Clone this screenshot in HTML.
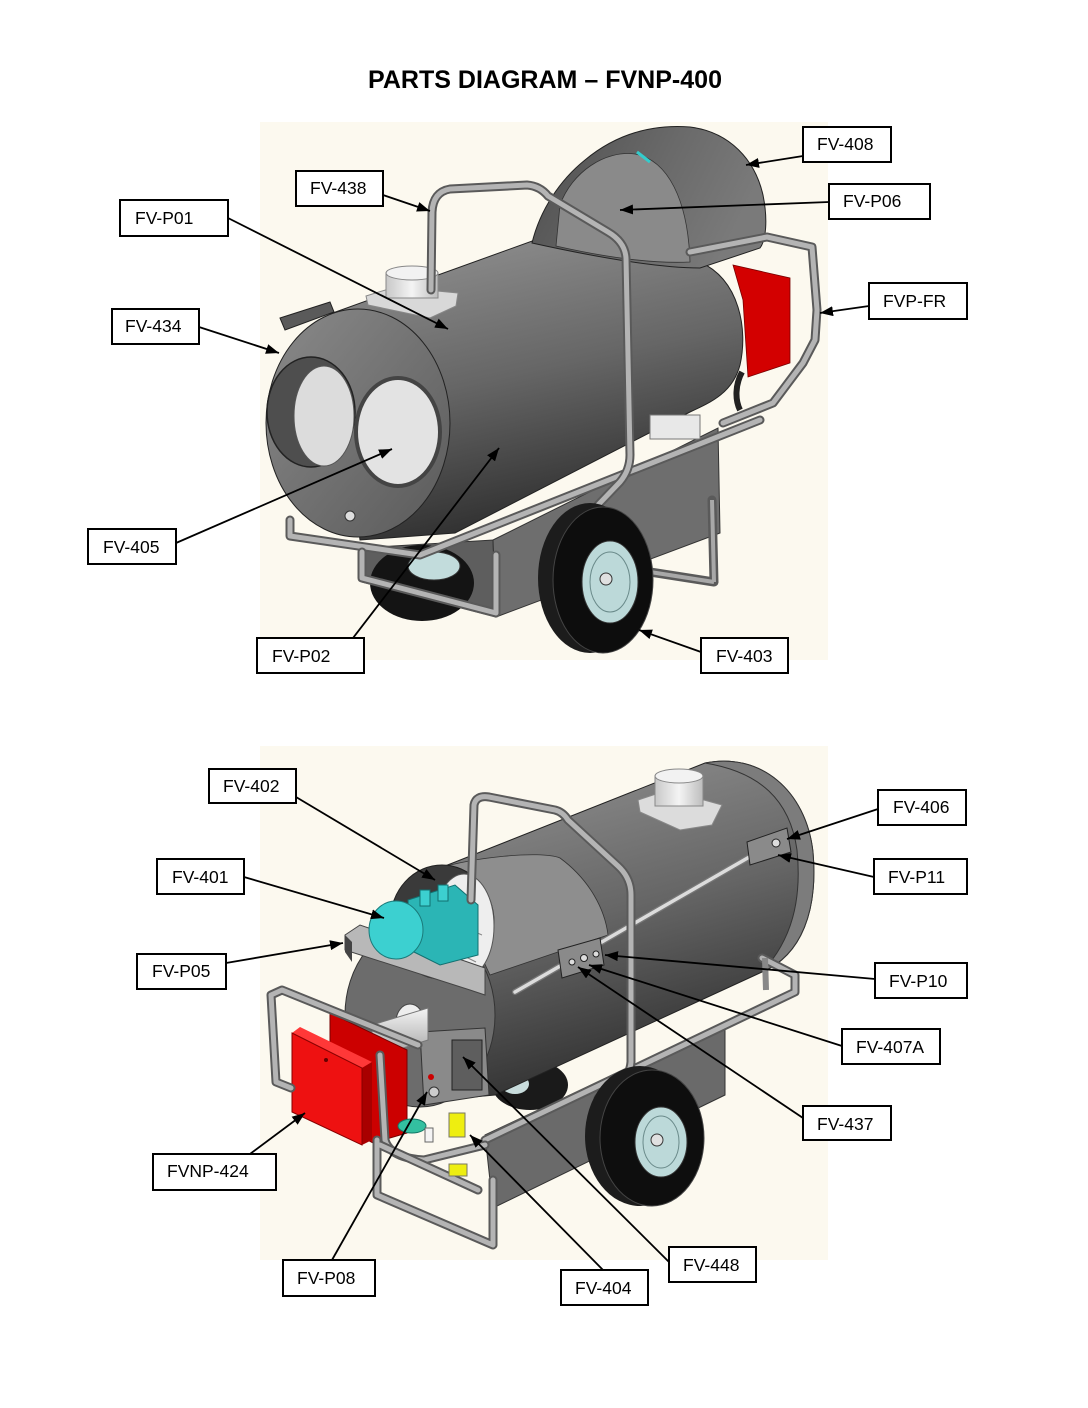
<!DOCTYPE html>
<html><head><meta charset="utf-8"><style>
html,body{margin:0;padding:0;background:#fff;}
svg{display:block;}
.lb{fill:#fff;stroke:#000;stroke-width:2;}
.lt{font-family:"Liberation Sans",Arial,sans-serif;font-size:17.5px;fill:#000;}
.ar{stroke:#000;stroke-width:1.8;fill:none;marker-end:url(#ah);}
.tubeO{fill:none;stroke:#5a5a5a;stroke-width:9;stroke-linejoin:round;stroke-linecap:round;}
.tubeI{fill:none;stroke:#b4b4b4;stroke-width:5;stroke-linejoin:round;stroke-linecap:round;}
</style></head><body>
<svg width="1088" height="1408" viewBox="0 0 1088 1408" xmlns="http://www.w3.org/2000/svg">
<defs>
<marker id="ah" markerUnits="userSpaceOnUse" markerWidth="13" markerHeight="10" refX="13" refY="5" orient="auto">
<path d="M0,0 L13,5 L0,10 z" fill="#000"/>
</marker>
<linearGradient id="bodyG" x1="0.3" y1="0" x2="0.6" y2="1">
<stop offset="0" stop-color="#8c8c8c"/><stop offset="0.45" stop-color="#666"/><stop offset="1" stop-color="#262626"/>
</linearGradient>
<linearGradient id="humpG" x1="0" y1="0" x2="1" y2="0.3">
<stop offset="0" stop-color="#4e4e4e"/><stop offset="0.6" stop-color="#6a6a6a"/><stop offset="1" stop-color="#7a7a7a"/>
</linearGradient>
<linearGradient id="diskG" x1="0" y1="0" x2="1" y2="1">
<stop offset="0" stop-color="#8a8a8a"/><stop offset="1" stop-color="#5a5a5a"/>
</linearGradient>
<linearGradient id="silG" x1="0" y1="0" x2="0" y2="1">
<stop offset="0" stop-color="#f4f4f4"/><stop offset="1" stop-color="#a0a0a0"/>
</linearGradient>
<linearGradient id="colG" x1="0" y1="0" x2="1" y2="0">
<stop offset="0" stop-color="#c8c8c8"/><stop offset="0.5" stop-color="#f4f4f4"/><stop offset="1" stop-color="#bdbdbd"/>
</linearGradient>
</defs>

<rect width="1088" height="1408" fill="#fff"/>
<text x="368" y="88" font-family="Liberation Sans,Arial,sans-serif" font-weight="bold" font-size="25" textLength="354" lengthAdjust="spacingAndGlyphs">PARTS DIAGRAM – FVNP-400</text>

<!-- ================= TOP PANEL ================= -->
<rect x="260" y="122" width="568" height="538" fill="#fcf9ef"/>

<!-- lower tank -->
<polygon points="360,548 493,540 496,617 362,582" fill="#5e5e5e" stroke="#333"/>
<polygon points="493,540 718,428 720,533 496,617" fill="#6e6e6e" stroke="#333"/>
<!-- right frame legs -->
<path d="M712,500 L714,582 M650,572 L714,582" class="tubeO" stroke-width="7"/>
<path d="M712,500 L714,582 M650,572 L714,582" fill="none" stroke="#a8a8a8" stroke-width="4"/>

<!-- rear wheel -->
<ellipse cx="422" cy="583" rx="52" ry="38" fill="#141414"/>
<ellipse cx="434" cy="566" rx="26" ry="14" fill="#c2dcdc" stroke="#333"/>

<!-- body -->
<path d="M330,314 L535,240 L700,262 C740,280 748,330 740,365 C733,392 712,402 690,412 L455,533 L360,540 Z" fill="url(#bodyG)" stroke="#222"/>
<!-- hose/valve stuff behind -->
<rect x="650" y="415" width="50" height="24" fill="#e8e8e8" stroke="#777"/>
<path d="M742,372 C735,385 735,400 740,410" stroke="#222" stroke-width="6" fill="none"/>

<!-- back housing hump -->
<path d="M532,243 C540,210 560,180 585,160 C615,135 650,124 690,127 C730,132 755,160 763,195 C768,220 766,240 760,248 L700,268 C660,268 600,258 532,243 Z" fill="url(#humpG)" stroke="#222"/>
<path d="M560,205 C572,172 605,150 635,154 C668,160 688,200 690,262 C650,264 600,256 556,246 Z" fill="#8a8a8a" stroke="#333" stroke-width="0.8"/>
<path d="M637,152 L650,162" stroke="#3cc" stroke-width="3"/>

<!-- red box -->
<polygon points="733,265 790,278 790,363 748,377 743,300" fill="#d30000" stroke="#700" stroke-width="0.8"/>

<!-- right frame loop -->
<polyline points="690,252 767,237 812,247 817,310 815,340 803,363 773,403 723,423" class="tubeO"/>
<polyline points="690,252 767,237 812,247 817,310 815,340 803,363 773,403 723,423" class="tubeI"/>

<!-- front rail -->
<polyline points="290,520 290,536 420,555 760,420" class="tubeO" stroke-width="11"/>
<polyline points="290,520 290,536 420,555 760,420" class="tubeI" stroke-width="7"/>
<!-- bottom front frame -->
<polyline points="362,552 362,578 496,613 496,555" class="tubeO" stroke-width="9"/>
<polyline points="362,552 362,578 496,613 496,555" class="tubeI" stroke-width="5"/>

<!-- front disk -->
<ellipse cx="358" cy="423" rx="92" ry="114" fill="url(#diskG)" stroke="#222"/>
<polygon points="280,318 330,302 334,312 285,330" fill="#5a5a5a" stroke="#222"/>
<!-- holes -->
<ellipse cx="311" cy="412" rx="44" ry="55" fill="#4e4e4e" stroke="#222" stroke-width="1.5"/>
<ellipse cx="324" cy="416" rx="30" ry="50" fill="#dcdcdc" stroke="#555"/>
<ellipse cx="398" cy="432" rx="42" ry="54" fill="#e3e3e3" stroke="#444" stroke-width="4"/>
<circle cx="350" cy="516" r="5" fill="#ddd" stroke="#333"/>

<!-- exhaust collar -->
<polygon points="366,296 395,287 458,293 456,306 430,318 368,305" fill="#d8d8d8" stroke="#888"/>
<rect x="386" y="273" width="52" height="25" fill="url(#colG)" stroke="#888"/>
<ellipse cx="412" cy="273" rx="26" ry="7" fill="#f2f2f2" stroke="#888"/>

<!-- handle tube -->
<path d="M431,290 L432,212 Q433,192 450,189 L527,185 Q540,186 548,196 L608,232 Q625,242 626,258 L630,455 Q630,470 620,482 L598,505" class="tubeO" stroke-width="8"/>
<path d="M431,290 L432,212 Q433,192 450,189 L527,185 Q540,186 548,196 L608,232 Q625,242 626,258 L630,455 Q630,470 620,482 L598,505" class="tubeI"/>

<!-- front wheel -->
<ellipse cx="590" cy="578" rx="52" ry="75" fill="#1c1c1c"/>
<ellipse cx="603" cy="580" rx="50" ry="73" fill="#0d0d0d" stroke="#444"/>
<ellipse cx="610" cy="582" rx="28" ry="41" fill="#bcd9d9" stroke="#333"/>
<ellipse cx="610" cy="582" rx="20" ry="30" fill="none" stroke="#6a8a8a"/>
<circle cx="606" cy="579" r="6" fill="#e0e0e0" stroke="#333"/>

<!-- ================= BOTTOM PANEL ================= -->
<rect x="260" y="746" width="568" height="514" fill="#fcf9ef"/>

<!-- lower tank -->
<polygon points="485,1135 725,1022 725,1095 493,1208" fill="#6a6a6a" stroke="#333"/>
<!-- rear wheel under body -->
<ellipse cx="530" cy="1085" rx="38" ry="25" fill="#1a1a1a"/>
<ellipse cx="515" cy="1084" rx="14" ry="10" fill="#c8dcdc"/>

<!-- body -->
<path d="M440,868 L705,763 C760,752 806,790 813,852 C818,910 802,955 762,972 L495,1095 L440,1100 Z" fill="url(#bodyG)" stroke="#222"/>
<path d="M705,763 C760,752 806,790 813,852 C818,910 802,955 762,972 C792,940 802,900 797,850 C790,800 760,772 705,763 Z" fill="#7c7c7c" stroke="#333"/>
<path d="M440,868 C470,858 540,850 560,858 C590,880 605,910 608,935 L490,975 Z" fill="#8e8e8e" stroke="#333" stroke-width="0.8"/>

<!-- exhaust collar -->
<polygon points="638,800 668,790 722,805 712,825 680,830 640,812" fill="#dcdcdc" stroke="#888"/>
<rect x="655" y="776" width="48" height="30" fill="url(#colG)" stroke="#888"/>
<ellipse cx="679" cy="776" rx="24" ry="7" fill="#f2f2f2" stroke="#888"/>

<!-- side rod -->
<line x1="515" y1="992" x2="758" y2="852" stroke="#777" stroke-width="6" stroke-linecap="round"/>
<line x1="515" y1="992" x2="758" y2="852" stroke="#dcdcdc" stroke-width="3.5" stroke-linecap="round"/>
<!-- plates -->
<polygon points="558,950 600,938 604,965 562,978" fill="#8a8a8a" stroke="#222"/>
<circle cx="572" cy="962" r="3" fill="#ddd" stroke="#222"/><circle cx="584" cy="958" r="3.5" fill="#ddd" stroke="#222"/><circle cx="596" cy="954" r="3" fill="#ddd" stroke="#222"/>
<polygon points="747,842 787,828 791,852 750,865" fill="#8a8a8a" stroke="#222"/>
<circle cx="776" cy="843" r="4" fill="#ddd" stroke="#222"/>

<!-- right frame -->
<polyline points="762,958 795,975 795,992 485,1140" class="tubeO" stroke-width="8"/>
<polyline points="762,958 795,975 795,992 485,1140" class="tubeI" stroke-width="4.5"/>
<line x1="765" y1="958" x2="766" y2="990" stroke="#888" stroke-width="6"/>

<!-- rear disk -->
<ellipse cx="420" cy="1015" rx="75" ry="92" fill="#6c6c6c" stroke="#333"/>
<!-- fan shroud -->
<ellipse cx="442" cy="922" rx="52" ry="57" fill="#3a3a3a" stroke="#222"/>
<ellipse cx="464" cy="926" rx="30" ry="52" fill="#eeeeee" stroke="#555"/>
<path d="M450,890 L478,905 M448,920 L482,935 M452,950 L476,962" stroke="#888" stroke-width="1"/>
<!-- tray -->
<polygon points="345,935 360,925 485,968 485,995 470,990 345,950" fill="#b8b8b8" stroke="#444"/>
<polygon points="345,935 345,952 352,962 352,942" fill="#444"/>
<!-- motor -->
<polygon points="408,900 455,885 478,905 478,955 440,965 410,950" fill="#2bb5b5" stroke="#127070"/>
<rect x="420" y="890" width="10" height="16" fill="#3cd0d0" stroke="#127070"/>
<rect x="438" y="885" width="10" height="16" fill="#3cd0d0" stroke="#127070"/>
<ellipse cx="396" cy="930" rx="27" ry="29" fill="#3cd0d0" stroke="#1a7a7a"/>
<!-- medallion -->
<ellipse cx="410" cy="1022" rx="14" ry="18" fill="#eee" stroke="#444"/>

<!-- control box -->
<polygon points="420,1032 485,1028 489,1095 424,1105" fill="#8a8a8a" stroke="#333"/>
<rect x="452" y="1040" width="30" height="50" fill="#5e5e5e" stroke="#222"/>
<circle cx="431" cy="1077" r="3" fill="#c00"/>
<circle cx="434" cy="1092" r="5" fill="#ccc" stroke="#333"/>

<!-- silver tube -->
<polygon points="372,1025 428,1008 428,1040 372,1058" fill="url(#silG)" stroke="#777"/>

<!-- red boxes -->
<polygon points="330,1013 407,1050 407,1133 373,1143 330,1120" fill="#cc0000" stroke="#700"/>
<polygon points="292,1033 300,1027 372,1062 362,1068" fill="#ff3838"/>
<polygon points="362,1068 372,1062 372,1140 362,1145" fill="#a80000"/>
<polygon points="292,1033 362,1068 362,1145 292,1112" fill="#ee1111" stroke="#800"/>
<circle cx="326" cy="1060" r="2" fill="#600"/>

<!-- frame loop -->
<path d="M291,1088 L276,1082 L271,995 L282,990 L418,1045 M380,1055 L385,1140 Q390,1158 424,1160 L485,1145" class="tubeO" stroke-width="9"/>
<path d="M291,1088 L276,1082 L271,995 L282,990 L418,1045 M380,1055 L385,1140 Q390,1158 424,1160 L485,1145" class="tubeI"/>
<!-- bottom frame -->
<path d="M377,1140 L377,1195 L493,1245 L493,1180 M380,1145 L478,1190" class="tubeO" stroke-width="8"/>
<path d="M377,1140 L377,1195 L493,1245 L493,1180 M380,1145 L478,1190" class="tubeI" stroke-width="4.5"/>

<!-- small parts -->
<rect x="449" y="1113" width="16" height="24" fill="#eeee10" stroke="#776"/>
<rect x="449" y="1164" width="18" height="12" fill="#eeee10" stroke="#776"/>
<ellipse cx="412" cy="1126" rx="14" ry="7" fill="#33c0a0" stroke="#176"/>
<rect x="425" y="1128" width="8" height="14" fill="#f4f4f4" stroke="#666"/>

<!-- handle tube -->
<path d="M471,900 L474,805 Q476,795 489,797 L555,810 Q563,812 568,820 L618,866 Q631,878 631,895 L631,1062 Q630,1075 620,1082 L598,1098" class="tubeO" stroke-width="8"/>
<path d="M471,900 L474,805 Q476,795 489,797 L555,810 Q563,812 568,820 L618,866 Q631,878 631,895 L631,1062 Q630,1075 620,1082 L598,1098" class="tubeI"/>

<!-- front wheel -->
<ellipse cx="640" cy="1136" rx="55" ry="70" fill="#1c1c1c"/>
<ellipse cx="652" cy="1138" rx="52" ry="68" fill="#0e0e0e" stroke="#444"/>
<ellipse cx="661" cy="1142" rx="26" ry="35" fill="#bcd9d9" stroke="#333"/>
<ellipse cx="661" cy="1142" rx="18" ry="26" fill="none" stroke="#6a8a8a"/>
<circle cx="657" cy="1140" r="6" fill="#e0e0e0" stroke="#333"/>

<!-- ================= LABELS & ARROWS ================= -->
<g>
<line class="ar" x1="803" y1="156" x2="746" y2="165"/>
<line class="ar" x1="383" y1="195" x2="430" y2="211"/>
<line class="ar" x1="829" y1="202" x2="620" y2="210"/>
<line class="ar" x1="228" y1="218" x2="448" y2="329"/>
<line class="ar" x1="869" y1="306" x2="820" y2="313"/>
<line class="ar" x1="199" y1="327" x2="279" y2="353"/>
<line class="ar" x1="176" y1="543" x2="392" y2="449"/>
<line class="ar" x1="353" y1="638" x2="499" y2="448"/>
<line class="ar" x1="701" y1="652" x2="639" y2="630"/>

<line class="ar" x1="296" y1="797" x2="435" y2="880"/>
<line class="ar" x1="878" y1="809" x2="787" y2="839"/>
<line class="ar" x1="244" y1="877" x2="384" y2="918"/>
<line class="ar" x1="874" y1="877" x2="778" y2="855"/>
<line class="ar" x1="226" y1="963" x2="343" y2="943"/>
<line class="ar" x1="875" y1="979" x2="605" y2="955"/>
<line class="ar" x1="842" y1="1046" x2="589" y2="965"/>
<line class="ar" x1="803" y1="1118" x2="578" y2="967"/>
<line class="ar" x1="250" y1="1154" x2="305" y2="1113"/>
<line class="ar" x1="669" y1="1262" x2="463" y2="1057"/>
<line class="ar" x1="332" y1="1260" x2="427" y2="1092"/>
<line class="ar" x1="603" y1="1270" x2="470" y2="1135"/>
</g>

<g>
<rect class="lb" x="803" y="127" width="88" height="35"/><text class="lt" x="817" y="150">FV-408</text>
<rect class="lb" x="296" y="171" width="87" height="35"/><text class="lt" x="310" y="194">FV-438</text>
<rect class="lb" x="829" y="184" width="101" height="35"/><text class="lt" x="843" y="207">FV-P06</text>
<rect class="lb" x="120" y="200" width="108" height="36"/><text class="lt" x="135" y="224">FV-P01</text>
<rect class="lb" x="869" y="283" width="98" height="36"/><text class="lt" x="883" y="307">FVP-FR</text>
<rect class="lb" x="112" y="309" width="87" height="35"/><text class="lt" x="125" y="332">FV-434</text>
<rect class="lb" x="88" y="529" width="88" height="35"/><text class="lt" x="103" y="553">FV-405</text>
<rect class="lb" x="257" y="638" width="107" height="35"/><text class="lt" x="272" y="662">FV-P02</text>
<rect class="lb" x="701" y="638" width="87" height="35"/><text class="lt" x="716" y="662">FV-403</text>

<rect class="lb" x="209" y="769" width="87" height="34"/><text class="lt" x="223" y="792">FV-402</text>
<rect class="lb" x="878" y="790" width="88" height="35"/><text class="lt" x="893" y="813">FV-406</text>
<rect class="lb" x="157" y="859" width="87" height="35"/><text class="lt" x="172" y="883">FV-401</text>
<rect class="lb" x="874" y="859" width="93" height="35"/><text class="lt" x="888" y="883">FV-P11</text>
<rect class="lb" x="137" y="954" width="89" height="35"/><text class="lt" x="152" y="977">FV-P05</text>
<rect class="lb" x="875" y="963" width="92" height="35"/><text class="lt" x="889" y="987">FV-P10</text>
<rect class="lb" x="842" y="1029" width="98" height="35"/><text class="lt" x="856" y="1053">FV-407A</text>
<rect class="lb" x="803" y="1106" width="88" height="34"/><text class="lt" x="817" y="1130">FV-437</text>
<rect class="lb" x="153" y="1154" width="123" height="36"/><text class="lt" x="167" y="1177">FVNP-424</text>
<rect class="lb" x="669" y="1247" width="87" height="35"/><text class="lt" x="683" y="1271">FV-448</text>
<rect class="lb" x="283" y="1260" width="92" height="36"/><text class="lt" x="297" y="1284">FV-P08</text>
<rect class="lb" x="561" y="1270" width="87" height="35"/><text class="lt" x="575" y="1294">FV-404</text>
</g>
</svg>
</body></html>
